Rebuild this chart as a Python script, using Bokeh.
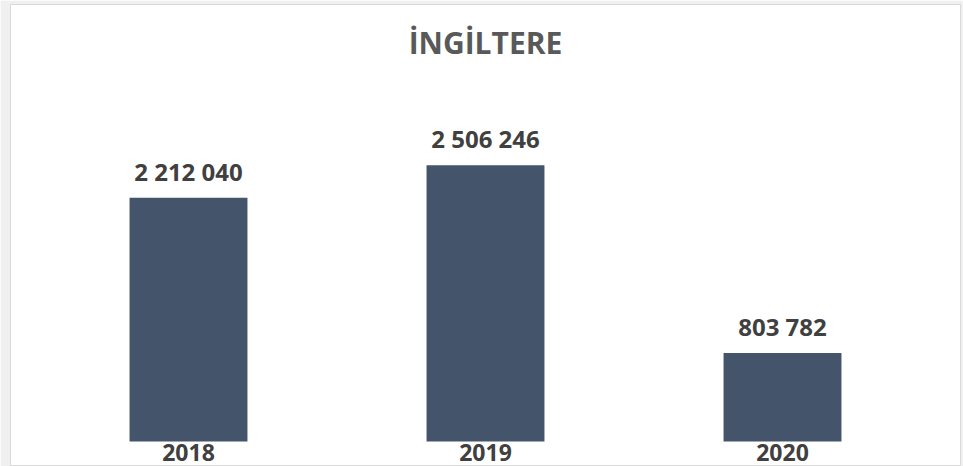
from bokeh.plotting import figure
from bokeh.models import ColumnDataSource, LabelSet, Label, FactorRange, Range1d
from bokeh.core.properties import value
from bokeh.embed import file_html
from bokeh.resources import INLINE

title_text = "İNGİLTERE"
years = ["2018", "2019", "2020"]
values = [2212040, 2506246, 803782]
value_labels = [f"{v:,}".replace(",", " ") for v in values]

src = ColumnDataSource(dict(year=years, value=values, vlabel=value_labels, zero=[0] * len(years)))

p = figure(width=963, height=466,
           x_range=FactorRange(*years, range_padding=0.0993, range_padding_units="absolute"),
           y_range=Range1d(-226875, 3965775),
           output_backend="svg", toolbar_location=None,
           x_axis_location=None, y_axis_location=None,
           min_border=0, min_border_left=10, min_border_right=3,
           min_border_top=4, min_border_bottom=0)
p.outline_line_color = "#d9d9d9"
p.outline_line_width = 1
p.xgrid.visible = False
p.ygrid.visible = False
p.background_fill_color = "white"
p.border_fill_color = "#f0f0f0"

p.vbar(x="year", top="value", bottom=0, width=0.397, source=src,
       fill_color="#44546a", line_color=None)

p.add_layout(LabelSet(x="year", y="value", text="vlabel", source=src,
                      text_align="center", text_baseline="alphabetic", y_offset=17,
                      text_font=value("Open Sans"), text_font_style="bold",
                      text_font_size="24px", text_color="#404040"))

p.add_layout(LabelSet(x="year", y="zero", text="year", source=src,
                      text_align="center", text_baseline="alphabetic", y_offset=-19,
                      text_font=value("Open Sans"), text_font_style="bold",
                      text_font_size="23px", text_color="#404040"))

p.add_layout(Label(x=1.5, y=424, x_units="data", y_units="screen", text=title_text,
                   text_align="center", text_baseline="middle",
                   text_font="Open Sans", text_font_style="bold",
                   text_font_size="30px", text_color="#595959"))

open("out.html", "w").write(file_html(p, INLINE))
